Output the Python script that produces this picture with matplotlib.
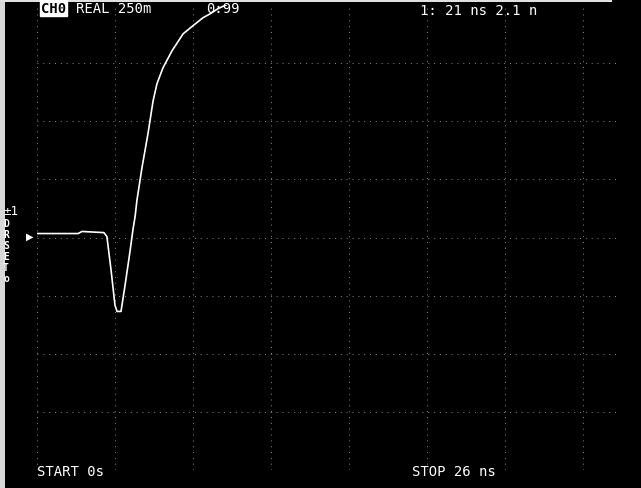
import matplotlib.pyplot as plt
import numpy as np

# TDR response, real part (U) vs time (ns)
time_ns = [0.0, 1.37, 1.5, 2.23, 2.33, 2.47, 2.6, 2.67, 2.8, 2.93, 3.1,
           3.2, 3.27, 3.33, 3.5, 3.7, 3.87, 4.0, 4.2, 4.5, 4.87, 5.2, 5.53,
           5.77, 6.03, 6.3]
level = [0.017, 0.017, 0.026, 0.021, 0.004, -0.142, -0.292, -0.318, -0.318,
         -0.210, -0.060, 0.035, 0.090, 0.159, 0.301, 0.447, 0.588,
         0.662, 0.730, 0.803, 0.876, 0.911, 0.945, 0.962, 0.984, 1.0]

ns_per_div = 2.6
u_per_div = 0.25
header_left = ["REAL 250m", "0:99"]
marker_text = "1: 21 ns 2.1 n"
start_text = "START 0s"
stop_text = "STOP 26 ns"
side_chars = ["D", "R", "S", "E", "T", "o"]

W, H = 641, 489
fig = plt.figure(figsize=(W / 100, H / 100), dpi=100)
fig.patch.set_facecolor("black")

def fx(px):
    return px / W

def fy(py):
    return 1 - py / H

x0, x1, y0, y1 = 37, 620, 6, 471
ax = fig.add_axes([fx(x0), fy(y1), fx(x1) - fx(x0), fy(y0) - fy(y1)])
ax.set_facecolor("black")
ax.set_xlim(0, (x1 - x0) / 78 * ns_per_div)
ax.set_ylim(-4 * u_per_div, 4 * u_per_div)
for s in ax.spines.values():
    s.set_visible(False)
ax.set_xticks([])
ax.set_yticks([])

grid_kw = dict(color="#8a8a8a", lw=0.7, ls=(0, (1, 5)), zorder=1)
for i in range(8):
    ax.axvline(i * ns_per_div, **grid_kw)
for j in range(-4, 4):
    ax.axhline(j * u_per_div, **grid_kw)

ax.plot(time_ns, level, color="white", lw=1.2, zorder=3)

# reference marker
fig.text(fx(30), fy(237), "\u25B6", color="white", fontsize=7,
         ha="center", va="center")

mono = "DejaVu Sans Mono"
fig.text(fx(41), fy(9), "CH0", color="black", fontsize=10, family=mono,
         weight="bold", va="center", ha="left",
         bbox=dict(facecolor="white", edgecolor="white", pad=0.6))
fig.text(fx(76), fy(9), header_left[0], color="white", fontsize=10,
         family=mono, va="center", ha="left")
fig.text(fx(206), fy(9), header_left[1], color="white", fontsize=10,
         family=mono, va="center", ha="left")
fig.text(fx(420), fy(11), marker_text, color="white", fontsize=10,
         family=mono, va="center", ha="left")
fig.text(fx(37), fy(472), start_text, color="white", fontsize=10,
         family=mono, va="center", ha="left")
fig.text(fx(412), fy(472), stop_text, color="white", fontsize=10,
         family=mono, va="center", ha="left")

fig.text(fx(4), fy(212), "\u00b11", color="white", fontsize=9,
         family=mono, va="center", ha="left")
for k, ch in enumerate(side_chars):
    fig.text(fx(6), fy(224 + k * 11), ch, color="white", fontsize=7,
             family=mono, va="center", ha="center", weight="bold")

# paper edges of the scan
fig.patches.append(plt.Rectangle((0, 0), fx(5), 1, transform=fig.transFigure,
                                 facecolor="#d8d8d8", edgecolor="none"))
fig.patches.append(plt.Rectangle((0, fy(3)), fx(612), 1 - fy(3),
                                 transform=fig.transFigure,
                                 facecolor="#e0e0e0", edgecolor="none"))

fig.savefig("out.png", dpi=100, facecolor="black")
